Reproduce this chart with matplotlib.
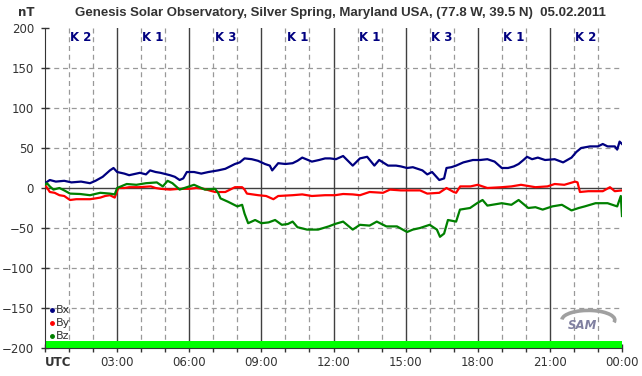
import matplotlib

matplotlib.use("Agg")
import matplotlib.pyplot as plt
from matplotlib.patches import Arc

# hours UTC, values in nT
bx_t = [0.0, 0.2, 0.45, 0.8, 1.1, 1.5, 1.87, 2.1, 2.4, 2.7, 2.85, 3.0, 3.3, 3.5, 3.95,
        4.2, 4.37, 4.6, 4.8, 5.2, 5.4, 5.6, 5.75, 5.9, 6.2, 6.5, 6.8, 7.2, 7.5, 7.9,
        8.1, 8.3, 8.6, 8.86, 9.15, 9.35, 9.45, 9.7, 10.0, 10.3, 10.5, 10.7, 11.1, 11.4,
        11.65, 11.86, 12.1, 12.4, 12.6, 12.8, 13.1, 13.4, 13.7, 13.9, 14.27, 14.6, 14.8,
        15.06, 15.3, 15.5, 15.7, 15.9, 16.1, 16.4, 16.6, 16.7, 16.9, 17.1, 17.4, 17.8,
        18.1, 18.4, 18.7, 19.0, 19.26, 19.5, 19.7, 19.9, 20.05, 20.26, 20.5, 20.8, 21.2,
        21.55, 21.9, 22.1, 22.3, 22.67, 23.0, 23.2, 23.4, 23.7, 23.8, 23.9, 24.0]
bx = [6, 10, 8, 9, 7, 8, 6, 9, 14, 22, 25, 20, 18, 16, 19,
      17, 22, 20, 19, 16, 14, 10, 12, 20, 20, 18, 20, 22, 24, 30,
      32, 37, 36, 34, 30, 28, 22, 31, 30, 31, 34, 38, 33, 35,
      37, 37, 36, 40, 34, 28, 37, 39, 28, 35, 28, 28, 27,
      25, 26, 24, 22, 17, 20, 10, 12, 25, 26, 28, 32, 35,
      35, 36, 33, 25, 25, 27, 30, 35, 39, 36, 38, 35, 36,
      32, 38, 45, 50, 52, 52, 55, 52, 52, 48, 58, 55]

by_t = [0.0, 0.2, 0.4, 0.6, 0.8, 1.04, 1.3, 1.6, 1.87, 2.1, 2.3, 2.5, 2.7, 2.9, 3.05,
        3.3, 3.5, 3.9, 4.4, 4.6, 4.8, 5.2, 5.6, 6.0, 6.3, 6.6, 7.07, 7.5, 7.7, 7.9,
        8.2, 8.3, 8.4, 8.87, 9.2, 9.5, 9.7, 10.3, 10.7, 11.1, 11.65, 12.06, 12.4, 12.8,
        13.1, 13.5, 14.06, 14.35, 14.8, 15.2, 15.6, 15.9, 16.4, 16.7, 17.0, 17.1, 17.27,
        17.7, 18.0, 18.4, 19.0, 19.4, 19.8, 20.4, 20.9, 21.2, 21.6, 22.05, 22.15, 22.25,
        22.6, 23.2, 23.5, 23.7, 24.0]
by = [4, -5, -6, -9, -10, -15, -14, -14, -14, -13, -12, -10, -9, -12, 0,
      0, 1, 1, 2, 0, -1, -2, -1, -1, 0, -1, -5, -5, -2, 1,
      1, -2, -7, -9, -10, -14, -10, -9, -8, -10, -9, -9, -7.5, -8,
      -9, -5, -6, -2, -3, -3, -3, -7, -6, 0, -5, -6, 2,
      2, 4, 0, 1, 2, 4, 1, 2, 5, 4, 8, 7, -5,
      -4, -4, 1, -4, -3]

bz_t = [0.0, 0.08, 0.2, 0.35, 0.6, 0.8, 1.04, 1.46, 1.87, 2.3, 2.7, 2.9, 3.0, 3.4, 3.8,
        4.2, 4.65, 4.9, 5.1, 5.3, 5.6, 5.8, 6.2, 6.65, 7.07, 7.2, 7.3, 7.6, 8.0, 8.2,
        8.3, 8.45, 8.74, 9.0, 9.3, 9.57, 9.85, 10.1, 10.3, 10.5, 10.9, 11.36, 11.8, 12.06,
        12.4, 12.8, 13.1, 13.5, 13.8, 14.2, 14.64, 15.06, 15.3, 15.6, 16.0, 16.3, 16.43,
        16.6, 16.76, 17.1, 17.26, 17.68, 17.97, 18.2, 18.4, 19.0, 19.4, 19.7, 20.1, 20.4,
        20.7, 21.1, 21.5, 21.9, 22.2, 22.45, 22.9, 23.4, 23.8, 23.95, 24.0]
bz = [4, 6, 2, -2, 0, -3, -7, -7.5, -9, -6, -7, -8, 0, 5, 4,
      6, 7, 2, 9, 6, -2, 0, 4, -2, -1, -6, -13, -17, -23, -21,
      -32, -44, -40, -44, -43, -40, -46, -45, -42, -49, -52, -52, -48, -45,
      -42, -52, -46, -47, -42, -48, -48, -55, -52, -50, -46, -52, -61,
      -57, -40, -42, -27, -25, -19, -15, -22, -19, -21, -15, -25, -24,
      -27, -23, -21, -28, -25, -23, -19, -19, -23, -10, -35]

k_index = [2, 1, 3, 1, 1, 3, 1, 2]
hour_ticks = list(range(0, 25, 3))
hour_labels = ["UTC", "03:00", "06:00", "09:00", "12:00", "15:00", "18:00", "21:00", "00:00"]
TXT = "#333333"

fig = plt.figure(figsize=(6.42, 3.76), dpi=100)
ax = fig.add_axes([45 / 642, 28 / 376, 577 / 642, 320 / 376])
ax.set_xlim(0, 24)
ax.set_ylim(-200, 200)

# grid: hourly dashed, 3-hourly solid, 50 nT dashed, zero solid
for h in range(1, 24):
    if h % 3:
        ax.axvline(h, color="#999999", lw=0.9, ls=(0, (4, 3)), zorder=1)
    else:
        ax.axvline(h, color="#404040", lw=1.0, zorder=1)
for v in range(-150, 200, 50):
    if v:
        ax.axhline(v, color="#999999", lw=0.9, ls=(0, (4, 3)), zorder=1)
ax.axhline(0, color="#404040", lw=1.0, zorder=1)

ax.axhspan(-200, -191, color="#00ff00", lw=0, zorder=2)

ax.plot(bx_t, bx, color="#000080", lw=1.6, zorder=3)
ax.plot(by_t, by, color="#ff0000", lw=1.6, zorder=3)
ax.plot(bz_t, bz, color="#008000", lw=1.6, zorder=3)

for i, k in enumerate(k_index):
    ax.text(1.5 + 3 * i, 188, f"K {k}", color="#000080", fontsize=8.5, fontweight="bold",
            ha="center", va="center", zorder=4)

# legend in the lower left corner
for i, (name, col) in enumerate([("Bx", "#000080"), ("By", "#ff0000"), ("Bz", "#008000")]):
    yv = -152 - i * 16.5
    ax.plot([0.28], [yv], marker="o", ms=2.5, color=col, zorder=5, clip_on=False)
    ax.text(0.45, yv, name, color=TXT, fontsize=8, va="center", ha="left", zorder=5)

# SAM logo, roughly: grey swoosh with italic letters
ax.add_patch(Arc((22.6, -165), 2.2, 24, theta1=-70, theta2=150, color="#a0a0a0", lw=2.6, zorder=4))
ax.text(22.35, -172, "SAM", color="#8080a0", fontsize=8.5, fontstyle="italic",
        fontweight="bold", ha="center", va="center", zorder=5)

ax.set_xticks(hour_ticks)
ax.set_xticklabels(hour_labels)
ax.set_xticks(range(25), minor=True)
ax.set_yticks(range(-200, 201, 50))
ax.tick_params(axis="both", which="both", direction="inout", length=6, width=1,
               color="#333333", labelsize=8.5, labelcolor=TXT)
ax.tick_params(axis="x", pad=3)
ax.tick_params(axis="y", pad=5)
ax.get_xticklabels()[0].set_fontweight("bold")
ax.get_xticklabels()[0].set_horizontalalignment("left")

for side in ["top", "right"]:
    ax.spines[side].set_visible(False)
for side in ["left", "bottom"]:
    ax.spines[side].set_color("#333333")

fig.text(18 / 642, 1 - 13 / 376, "nT", fontsize=8.5, fontweight="bold", color=TXT,
         ha="left", va="center")
fig.text(340 / 642, 1 - 13 / 376,
         "Genesis Solar Observatory, Silver Spring, Maryland USA, (77.8 W, 39.5 N)  05.02.2011",
         fontsize=9.5, fontweight="bold", color=TXT, ha="center", va="center",
         family=["Liberation Sans Narrow", "Liberation Sans"])

fig.savefig("out.png", dpi=100)
